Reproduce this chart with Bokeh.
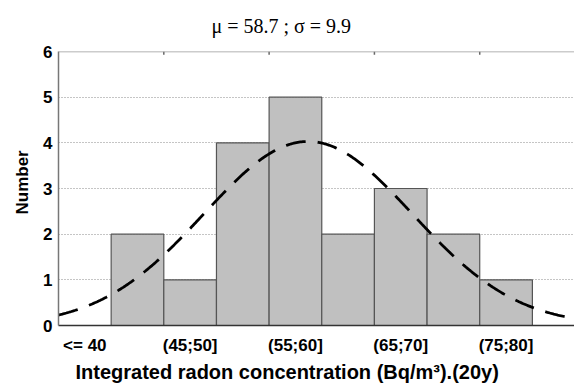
import numpy as np
from bokeh.plotting import figure
from bokeh.models import Range1d, FixedTicker, ColumnDataSource, Span, Title
from bokeh.embed import file_html
from bokeh.resources import INLINE

# Data
bin_lower = [40, 45, 50, 55, 60, 65, 70, 75]
bin_upper = [45, 50, 55, 60, 65, 70, 75, 80]
counts = [2, 1, 4, 5, 2, 3, 2, 1]
tick_positions = [37.5, 47.5, 57.5, 67.5, 77.5]
tick_labels = ["<= 40", "(45;50]", "(55;60]", "(65;70]", "(75;80]"]
top_ticks = [45, 55, 65, 75]
mu = 58.7
sigma = 9.9
bin_width = 5
title_text = "μ = 58.7 ; σ = 9.9"
x_label = "Integrated radon concentration (Bq/m³).(20y)"
y_label = "Number"

p = figure(width=574, height=384, output_backend="svg", toolbar_location=None,
           x_range=Range1d(35, 84), y_range=Range1d(0, 6),
           min_border_left=58, min_border_right=0, min_border_top=51, min_border_bottom=59)
p.outline_line_color = None
p.background_fill_color = "white"
p.border_fill_color = "white"

src = ColumnDataSource(dict(left=bin_lower, right=bin_upper, top=counts))
p.quad(left="left", right="right", bottom=0, top="top", source=src,
       fill_color="#c0c0c0", line_color="#555555", line_width=1.2)

# fitted normal curve from mu, sigma
n_total = sum(counts)
xs = np.linspace(35, 84, 400)
ys = n_total * bin_width * np.exp(-0.5 * ((xs - mu) / sigma) ** 2) / (sigma * np.sqrt(2 * np.pi))
p.line(xs, ys, line_color="black", line_width=2.8, line_dash="20 12")

# top border with small inward ticks
p.add_layout(Span(location=6, dimension="width", line_color="#999999", line_width=1.5))
p.segment(x0=top_ticks, y0=6, x1=top_ticks, y1=5.93, line_color="#666666", line_width=1.5)

# grid
p.xgrid.visible = False
p.ygrid.ticker = FixedTicker(ticks=[1, 2, 3, 4, 5])
p.ygrid.grid_line_color = "#8a8a8a"
p.ygrid.grid_line_dash = "1 2"
p.ygrid.grid_line_width = 1

# x axis
xa = p.xaxis[0]
xa.ticker = FixedTicker(ticks=tick_positions)
xa.major_label_overrides = {t: l for t, l in zip(tick_positions, tick_labels)}
xa.major_tick_line_color = None
xa.minor_tick_line_color = None
xa.axis_line_color = "#333333"
xa.axis_line_width = 1.5
xa.major_label_text_font = "Liberation Sans"
xa.major_label_text_font_style = "bold"
xa.major_label_text_font_size = "17px"
xa.major_label_text_color = "black"
xa.major_label_standoff = 4

# y axis
ya = p.yaxis[0]
ya.ticker = FixedTicker(ticks=[0, 1, 2, 3, 4, 5, 6])
ya.major_tick_line_color = None
ya.minor_tick_line_color = None
ya.axis_line_color = "#777777"
ya.axis_line_width = 1.5
ya.major_label_text_font = "Liberation Sans"
ya.major_label_text_font_style = "bold"
ya.major_label_text_font_size = "17px"
ya.major_label_text_color = "black"
ya.major_label_standoff = 0

# titles used as axis labels and chart title
p.title.text = title_text
p.title.text_font = "Liberation Serif"
p.title.text_font_size = "20px"
p.title.text_font_style = "normal"
p.title.text_color = "black"
p.title.align = "left"
p.title.offset = 153
p.title.standoff = 27
p.title.vertical_align = "middle"

xt = Title(text=x_label, text_font="Liberation Sans", text_font_style="bold",
           text_font_size="20px", text_color="black", align="left", offset=17, standoff=3)
p.add_layout(xt, "below")

yt = Title(text=y_label, text_font="Liberation Sans", text_font_style="bold",
           text_font_size="17px", text_color="black", align="left", offset=111, standoff=17)
p.add_layout(yt, "left")

open("out.html", "w").write(file_html(p, INLINE))
